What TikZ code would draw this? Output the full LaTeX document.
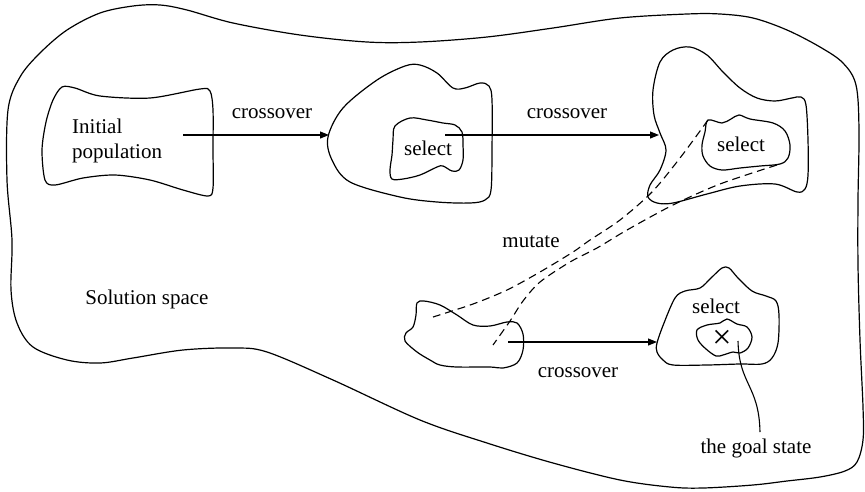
\documentclass[tikz,border=0pt]{standalone}
\usepackage{fontspec}
\setmainfont{Liberation Serif}
\newfontfamily\tnrfont{Liberation Serif}
\usetikzlibrary{arrows.meta}
\begin{document}
\begin{tikzpicture}[x=1pt,y=-1pt,
  blob/.style={draw, line width=1.2pt, line join=round},
  lbl/.style={inner sep=0pt, font=\tnrfont\fontsize{21}{25}\selectfont},
  flow/.style={line width=1.1pt, -{Triangle[length=9pt,width=7pt]}},
  cone/.style={line width=1.1pt, dash pattern=on 8pt off 5pt},
  lead/.style={line width=1.1pt}]
\useasboundingbox (0,0) rectangle (865,491);

% solution space
\draw[blob] plot[smooth cycle, tension=0.55] coordinates {
 (12,240) (7,180) (8,110) (20,77) (40,53) (67,30) (100,13) (133,6) (160,5) (187,10)
 (233,23) (300,35) (367,42) (420,42) (487,37) (553,28) (620,18) (687,14) (720,14)
 (753,18) (787,30) (820,47) (843,63) (856,85) (859,130) (858,200) (858,265) (860,340)
 (863,407) (863,440) (857,462) (845,471) (820,477) (787,481) (753,485) (703,488)
 (670,487) (620,480) (553,463) (487,443) (420,420) (333,380) (267,352) (233,348)
 (183,350) (133,358) (100,363) (67,360) (33,347) (17,323) (11,290)};

% initial population
\draw[blob] plot[smooth cycle, tension=0.5] coordinates {
 (62,87) (75,88) (100,96) (150,98) (200,89) (210,91) (213,110) (213,150) (213,188)
 (208,196) (183,190) (150,180) (115,175) (83,178) (55,185) (45,180) (42,150) (46,122) (53,100)};

% blob 2
\draw[blob] plot[smooth cycle, tension=0.55] coordinates {
 (328,137) (343,108) (377,80) (405,66) (420,65) (437,73) (453,88) (465,88) (480,83)
 (489,86) (492,100) (492,150) (491,190) (485,200) (470,203) (437,202) (400,197)
 (350,182) (332,160)};
\draw[blob] plot[smooth cycle, tension=0.55] coordinates {
 (395,126) (410,118) (427,120) (443,123) (455,125) (462,132) (463,145) (463,160)
 (459,170) (452,171) (443,166) (437,167) (420,175) (403,179) (392,179) (390,170)
 (392,155) (393,140)};

% blob 3
\draw[blob] plot[smooth cycle, tension=0.55] coordinates {
 (653,90) (660,62) (673,50) (690,47) (707,55) (723,72) (740,88) (757,98) (775,101)
 (792,98) (801,97) (806,105) (808,140) (808,175) (805,189) (797,192) (775,184)
 (740,186) (707,194) (673,203) (657,203) (648,197) (650,185) (660,170) (666,150)
 (660,133) (654,115)};
\draw[blob] plot[smooth cycle, tension=0.55] coordinates {
 (708,120) (722,123) (731,119) (739,115) (750,119) (773,123) (785,131) (790,145)
 (788,158) (780,164) (760,166) (740,168) (722,170) (710,166) (703,156) (702,145) (705,132)};

% blob 4
\draw[blob] plot[smooth cycle, tension=0.55] coordinates {
 (417,303) (424,301) (440,305) (457,315) (473,325) (490,326) (507,322) (517,323)
 (523,334) (523,350) (517,363) (503,368) (490,367) (457,367) (440,365) (430,360)
 (417,352) (405,341) (406,333) (413,327) (416,315)};

% blob 5
\draw[blob] plot[smooth cycle, tension=0.55] coordinates {
 (657,343) (664,323) (675,298) (685,291) (700,288) (711,278) (722,268) (729,268)
 (738,278) (752,291) (766,296) (776,301) (779,315) (778,343) (772,358) (762,364)
 (740,364) (707,365) (673,365) (663,360) (657,352)};
\draw[blob] plot[smooth cycle, tension=0.55] coordinates {
 (697,330) (707,325) (720,323) (727,319) (737,324) (747,327) (752,337) (748,348)
 (740,353) (733,352) (723,355) (716,356) (706,349) (698,340)};

% mutate cone
\coordinate (mA) at (708,120);
\coordinate (mB) at (777,165);
\coordinate (mAe) at (433,317);
\coordinate (mBe) at (493,345);
\draw[cone] plot[smooth, tension=0.5] coordinates {
 (mA) (680,158) (652,192) (620,220) (590,240) (573,252) (540,272) (507,290) (473,304) (mAe)};
\draw[cone] plot[smooth, tension=0.5] coordinates {
 (mB) (720,184) (673,205) (627,230) (597,248) (570,262) (540,282) (523,301) (510,321) (mBe)};

% arrows
\coordinate (a1s) at (183,135);
\coordinate (a1e) at (329,135);
\coordinate (a2s) at (445,135);
\coordinate (a2e) at (659,135);
\coordinate (a3s) at (508,342);
\coordinate (a3e) at (657,342);
\draw[flow] (a1s) -- (a1e);
\draw[flow] (a2s) -- (a2e);
\draw[flow] (a3s) -- (a3e);

% labels
\node[lbl, anchor=west, align=left] (init) at (72,141) {Initial\\population};
\node[lbl, anchor=base] (c1) at (272,118) {crossover};
\node[lbl, anchor=base] (s2) at (428,155) {select};
\node[lbl, anchor=base] (c2) at (567,118) {crossover};
\node[lbl, anchor=base] (s3) at (741,151) {select};
\node[lbl, anchor=base] (mut) at (531,247) {mutate};
\node[lbl, anchor=base] (sol) at (147,304) {Solution space};
\node[lbl, anchor=base] (c3) at (578,377) {crossover};
\node[lbl, anchor=base] (s5) at (716,313) {select};
\node[lbl, font=\tnrfont\fontsize{34}{36}\selectfont] (goalx) at (722,339) {×};
\node[lbl, anchor=base] (goal) at (756,453) {the goal state};

% leader to goal
\coordinate (gs) at (738,341);
\coordinate (ge) at (760,432);
\draw[lead] (gs) .. controls (739,385) and (759,385) .. (ge);
\end{tikzpicture}
\end{document}
